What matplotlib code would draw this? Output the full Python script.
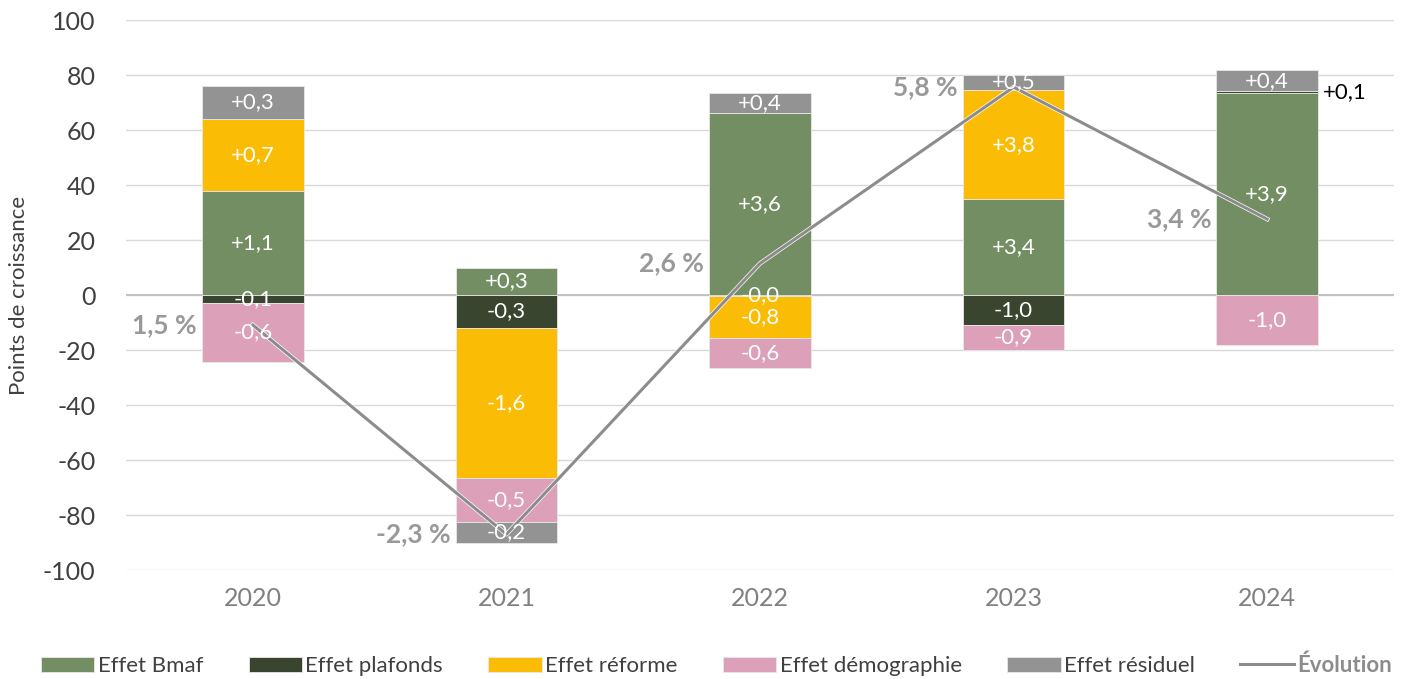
import matplotlib
matplotlib.use('Agg')
import matplotlib.pyplot as plt
import matplotlib.patheffects as pe
import numpy as np

plt.rcParams['font.family'] = ['Lato', 'DejaVu Sans']
plt.rcParams['axes.unicode_minus'] = False

years = ['2020', '2021', '2022', '2023', '2024']
series = ['Effet Bmaf', 'Effet plafonds', 'Effet réforme', 'Effet démographie', 'Effet résiduel']
colors = ['#738e63', '#3a4530', '#fbbc05', '#dca0b8', '#939393']

# heights in "points de croissance"
bmaf = [37.9, 10.0, 66.2, 34.9, 73.3]
plafonds = [-2.9, -12.0, -0.3, -10.9, 0.8]
reforme = [26.1, -54.7, -15.4, 39.6, 0.0]
demo = [-21.3, -15.7, -10.7, -9.1, -18.2]
residuel = [12.0, -7.6, 7.3, 5.5, 7.6]
values = [bmaf, plafonds, reforme, demo, residuel]

# labels shown in the bars
lab_bmaf = ['+1,1', '+0,3', '+3,6', '+3,4', '+3,9']
lab_plafonds = ['-0,1', '-0,3', '-0,0', '-1,0', '+0,1']
lab_reforme = ['+0,7', '-1,6', '-0,8', '+3,8', '']
lab_demo = ['-0,6', '-0,5', '-0,6', '-0,9', '-1,0']
lab_residuel = ['+0,3', '-0,2', '+0,4', '+0,5', '+0,4']
labels = [lab_bmaf, lab_plafonds, lab_reforme, lab_demo, lab_residuel]

# evolution line (position on the axis) and its labels
evol_y = [-10.9, -87.0, 11.5, 75.6, 27.6]
evol_lab = ['1,5 %', '-2,3 %', '2,6 %', '5,8 %', '3,4 %']

fig = plt.figure(figsize=(14.02, 6.79), dpi=100)
ax = fig.add_axes([0.0899, 0.1605, 0.9044, 0.81])

x = np.arange(len(years))
pos = np.zeros(len(years))
neg = np.zeros(len(years))
handles = []
for i in range(len(series)):
    v = np.array(values[i])
    bottom = np.where(v >= 0, pos, neg)
    bars = ax.bar(x, v, 0.4, bottom=bottom, color=colors[i], label=series[i],
                  edgecolor='#e8e8e8', linewidth=0.6, zorder=2)
    handles.append(bars)
    pos = pos + np.where(v >= 0, v, 0)
    neg = neg + np.where(v < 0, v, 0)
    inside = [l if not (i == 1 and j == 4) else '' for j, l in enumerate(labels[i])]
    ax.bar_label(bars, labels=inside, label_type='center', color='white', fontsize=16, zorder=4)
    if i == 1:
        r = bars[4]
        ax.annotate(labels[i][4], (r.get_x() + r.get_width(), r.get_y() + r.get_height() / 2),
                    xytext=(5, 0), textcoords='offset pixels', ha='left', va='center',
                    fontsize=16, color='black')

line, = ax.plot(x, evol_y, color='#8c8c8c', lw=2.2, label='Évolution', zorder=3,
                path_effects=[pe.Stroke(linewidth=3.2, foreground='white'), pe.Normal()])
handles.append(line)
for j in range(len(years)):
    ax.annotate(evol_lab[j], (x[j], evol_y[j]), xytext=(-56, 0), textcoords='offset pixels',
                ha='right', va='center', fontsize=19, fontweight='bold', color='#999999')

ax.set_xlim(-0.5, 4.5)
ax.set_ylim(-100, 100)
ax.set_yticks(np.arange(-100, 101, 20))
ax.set_xticks(x)
ax.set_xticklabels(years)
ax.tick_params(axis='y', length=0, labelsize=18, labelcolor='#404040', pad=22)
ax.tick_params(axis='x', length=0, labelsize=18, labelcolor='#808080', pad=12)
ax.grid(axis='y', color='#d9d9d9', lw=1, zorder=0)
ax.set_axisbelow(True)
ax.axhline(0, color='#bfbfbf', lw=1.3, zorder=1)
for s in ax.spines.values():
    s.set_visible(False)
ax.set_ylabel('Points de croissance', fontsize=16, color='#404040', labelpad=10)

leg = ax.legend(handles=handles, loc='center', bbox_to_anchor=(0.511, 0.02),
                bbox_transform=fig.transFigure, ncol=6, frameon=False, fontsize=16,
                handlelength=2.4, handleheight=0.7, handletextpad=0.15, columnspacing=2.05)
for t in leg.get_texts():
    t.set_color('#404040')
leg.get_texts()[-1].set_fontweight('bold')
leg.get_texts()[-1].set_color('#8c8c8c')

fig.savefig('out.png', dpi=100)
